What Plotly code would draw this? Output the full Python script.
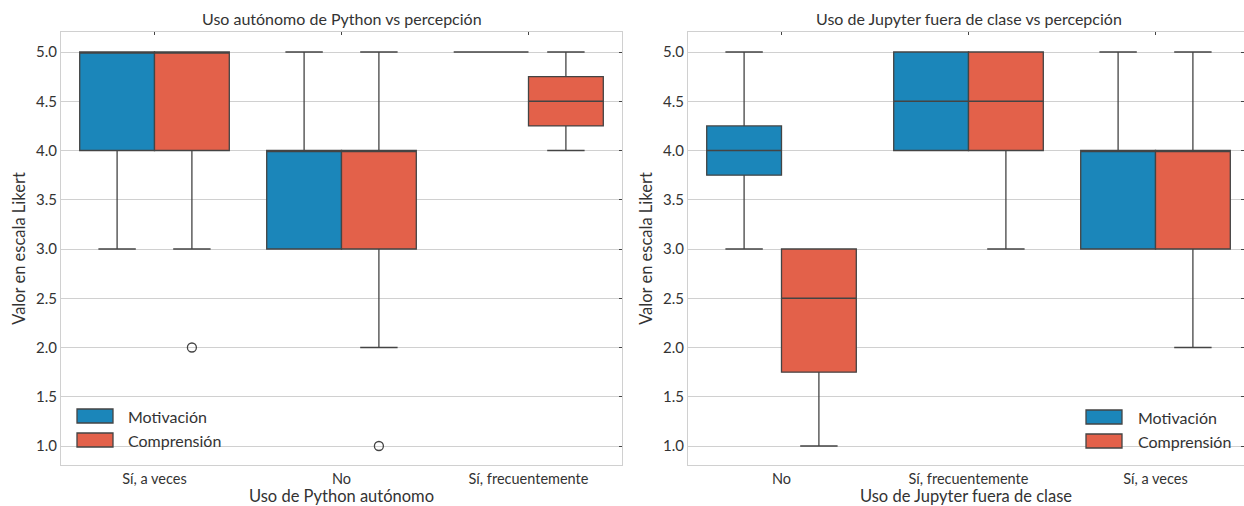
import plotly.graph_objects as go

W, H = 1244, 506

# ---------------- data ----------------
series_names = ["Motivación", "Comprensión"]
series_colors = ["#1b86ba", "#e3614a"]

cats_python = ["Sí, a veces", "No", "Sí, frecuentemente"]
py_mot_q1 = [4, 3, 5]
py_mot_med = [5, 4, 5]
py_mot_q3 = [5, 4, 5]
py_mot_lo = [3, 3, 5]
py_mot_hi = [5, 5, 5]
py_comp_q1 = [4, 3, 4.25]
py_comp_med = [5, 4, 4.5]
py_comp_q3 = [5, 4, 4.75]
py_comp_lo = [3, 2, 4]
py_comp_hi = [5, 5, 5]
py_comp_out_cat = ["Sí, a veces", "No"]
py_comp_out_val = [2, 1]

cats_jupyter = ["No", "Sí, frecuentemente", "Sí, a veces"]
jp_mot_q1 = [3.75, 4, 3]
jp_mot_med = [4, 4.5, 4]
jp_mot_q3 = [4.25, 5, 4]
jp_mot_lo = [3, 4, 3]
jp_mot_hi = [5, 5, 5]
jp_comp_q1 = [1.75, 4, 3]
jp_comp_med = [2.5, 4.5, 4]
jp_comp_q3 = [3, 5, 4]
jp_comp_lo = [1, 3, 2]
jp_comp_hi = [3, 5, 5]

y_ticks = [1.0, 1.5, 2.0, 2.5, 3.0, 3.5, 4.0, 4.5, 5.0]

# ---------------- style ----------------
FONT = "Lato"
TXT = "#333333"
EDGE = "#444444"
GRID = "#d0d0d0"
BOXW = 0.4
OFFS = [-0.2, 0.2]

fig = go.Figure()


def add_boxes(xa, ya, cats, stats_list):
    for k, (q1, med, q3, lo, hi) in enumerate(stats_list):
        xs = [i + OFFS[k] for i in range(len(cats))]
        fig.add_trace(go.Box(
            x=xs, q1=q1, median=med, q3=q3, lowerfence=lo, upperfence=hi,
            width=BOXW, whiskerwidth=0.5, boxpoints=False,
            fillcolor=series_colors[k], line=dict(color=EDGE, width=1.3),
            name=series_names[k], showlegend=False, xaxis=xa, yaxis=ya,
        ))


add_boxes("x", "y", cats_python, [
    (py_mot_q1, py_mot_med, py_mot_q3, py_mot_lo, py_mot_hi),
    (py_comp_q1, py_comp_med, py_comp_q3, py_comp_lo, py_comp_hi)])
add_boxes("x2", "y2", cats_jupyter, [
    (jp_mot_q1, jp_mot_med, jp_mot_q3, jp_mot_lo, jp_mot_hi),
    (jp_comp_q1, jp_comp_med, jp_comp_q3, jp_comp_lo, jp_comp_hi)])

# outliers (Comprensión, python panel)
fig.add_trace(go.Scatter(
    x=[cats_python.index(c) + OFFS[1] for c in py_comp_out_cat], y=py_comp_out_val,
    mode="markers", marker=dict(symbol="circle-open", size=9, color=EDGE, line=dict(width=1.3)),
    showlegend=False, xaxis="x", yaxis="y", hoverinfo="y"))

# invisible traces for mirrored tick axes
for xa, ya in [("x3", "y"), ("x", "y3"), ("x4", "y2"), ("x2", "y4")]:
    fig.add_trace(go.Scatter(x=[None], y=[None], xaxis=xa, yaxis=ya, showlegend=False, hoverinfo="skip"))

# ---------------- layout ----------------
def px_x(p):
    return p / W


def px_y(p):
    return 1 - p / H


dom_left = [px_x(61), px_x(622)]
dom_right = [px_x(688), 1.0]
dom_y = [px_y(465), px_y(32)]
xr_left = [-0.5, 2.5]
xr_right = [-0.5, -0.5 + (1244 - 688) / ((622 - 61) / 3)]
yr = [5 - (465 - 52) / 98.5, 5 + (52 - 32) / 98.5]

xtickfont = dict(family=FONT, size=14.5, color=TXT)
ytickfont = dict(family=FONT, size=15, color=TXT)
titlefont = dict(family=FONT, size=16.5, color=TXT)

common_x = dict(showgrid=False, zeroline=False, showline=True, linecolor=GRID, linewidth=1.2,
                mirror=True, ticks="", tickfont=xtickfont, tickvals=[0, 1, 2])
common_y = dict(showgrid=True, gridcolor=GRID, gridwidth=1, zeroline=False, showline=True,
                linecolor=GRID, linewidth=1.2, mirror=True, ticks="", tickfont=ytickfont,
                tickvals=y_ticks, ticktext=[f"{v:.1f}" for v in y_ticks], range=yr)

mirror_tick = dict(ticks="inside", ticklen=3, tickwidth=1.2, tickcolor=EDGE, showticklabels=False,
                   showgrid=False, zeroline=False, showline=False)

fig.update_layout(
    width=W, height=H, margin=dict(l=0, r=0, t=0, b=0),
    paper_bgcolor="white", plot_bgcolor="white", showlegend=False,
    xaxis=dict(common_x, domain=dom_left, range=xr_left, ticktext=cats_python, anchor="y",
               title=dict(text="Uso de Python autónomo", font=titlefont, standoff=2)),
    xaxis2=dict(common_x, domain=dom_right, range=xr_right, ticktext=cats_jupyter, anchor="y2",
                title=dict(text="Uso de Jupyter fuera de clase", font=titlefont, standoff=2)),
    yaxis=dict(common_y, domain=dom_y, anchor="x",
               title=dict(text="Valor en escala Likert", font=titlefont, standoff=6)),
    yaxis2=dict(common_y, domain=dom_y, anchor="x2",
                title=dict(text="Valor en escala Likert", font=titlefont, standoff=6)),
    xaxis3=dict(mirror_tick, overlaying="x", side="top", anchor="y", range=xr_left, tickvals=[0, 1, 2]),
    yaxis3=dict(mirror_tick, overlaying="y", side="right", anchor="x", range=yr, tickvals=y_ticks),
    xaxis4=dict(mirror_tick, overlaying="x2", side="top", anchor="y2", range=xr_right, tickvals=[0, 1, 2]),
    yaxis4=dict(mirror_tick, overlaying="y2", side="right", anchor="x2", range=yr, tickvals=y_ticks),
)

# subplot titles
fig.add_annotation(text="Uso autónomo de Python vs percepción", x=1, xref="x", y=px_y(18), yref="paper",
                   showarrow=False, font=dict(family=FONT, size=16, color=TXT), yanchor="middle")
fig.add_annotation(text="Uso de Jupyter fuera de clase vs percepción", x=1, xref="x2", y=px_y(18), yref="paper",
                   showarrow=False, font=dict(family=FONT, size=16, color=TXT), yanchor="middle")

# manual legends
legend_specs = [
    (77, 126, [416, 440]),     # left panel: patch x, text x, centre y's
    (1086, 1136, [417, 441]),  # right panel
]
for patch_x, text_x, ys in legend_specs:
    for k, cy in enumerate(ys):
        fig.add_shape(type="rect", xref="paper", yref="paper",
                      x0=px_x(patch_x), x1=px_x(patch_x + 36), y0=px_y(cy - 7), y1=px_y(cy + 7),
                      fillcolor=series_colors[k], line=dict(color=EDGE, width=1.3))
        fig.add_annotation(text=series_names[k], x=px_x(text_x), y=px_y(cy), xref="paper", yref="paper",
                           xanchor="left", yanchor="middle", showarrow=False,
                           font=dict(family=FONT, size=16, color=TXT))

fig.write_html("out.html")
